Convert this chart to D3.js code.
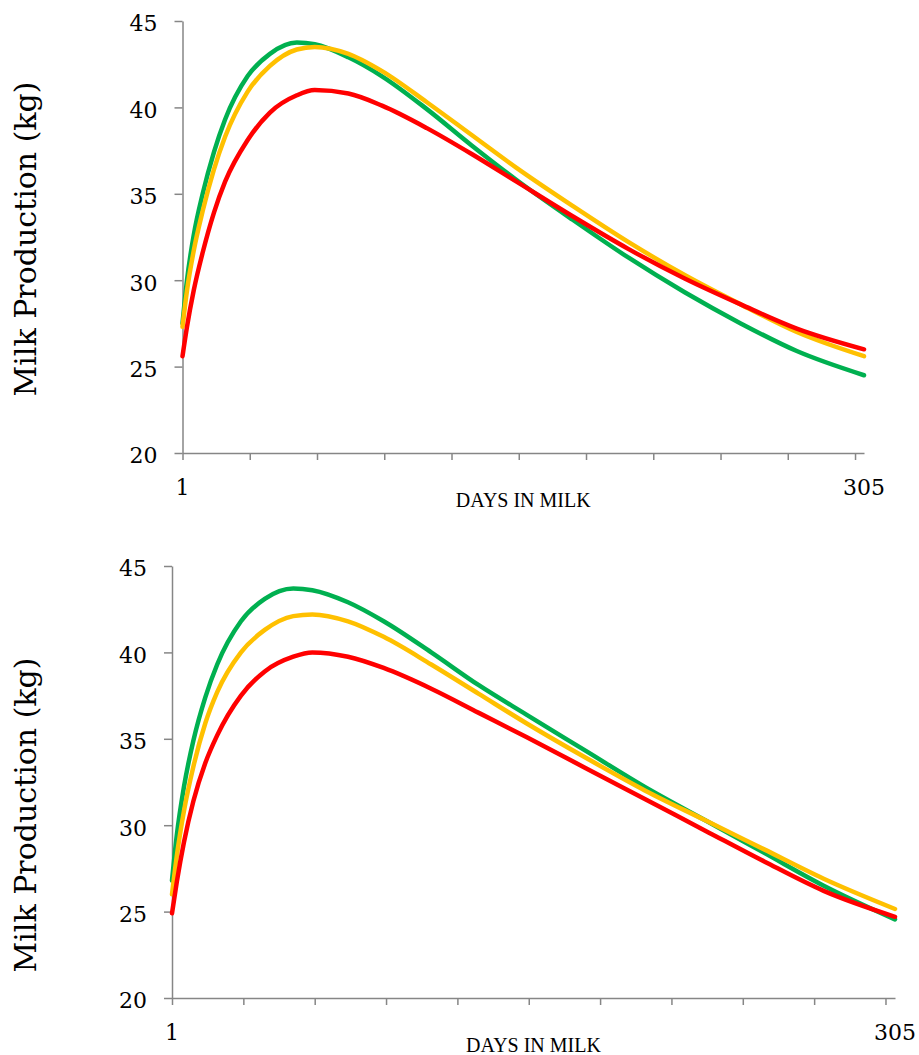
<!DOCTYPE html>
<html>
<head>
<meta charset="utf-8">
<script src="https://d3js.org/d3.v7.min.js"></script>
<style>
  body { margin: 0; background: #fff; }
  svg text { fill: #000; }
  .tick text { font-family: "DejaVu Serif", serif; font-size: 22px; }
  .ytitle { font-family: "DejaVu Serif", serif; font-size: 30px; }
  .xtitle { font-family: "Liberation Serif", serif; font-size: 20px; }
  .axis path, .axis line { stroke: #868686; stroke-width: 1.5; }
  .series { fill: none; stroke-width: 4.5; stroke-linecap: round; stroke-linejoin: round; }
</style>
</head>
<body>
<svg width="919" height="1055"></svg>
<script>
var days = [1, 3, 6, 10, 15, 20, 30, 40, 52, 60, 75, 90, 110, 130, 150, 175, 200, 225, 250, 275, 305];

// upper chart
var topGreen  = [27.5, 30.0, 32.6, 35.0, 37.4, 39.3, 41.8, 43.1, 43.75, 43.65, 42.9, 41.8, 39.9, 37.8, 35.8, 33.5, 31.3, 29.3, 27.5, 25.9, 24.5];
var topYellow = [27.3, 29.4, 31.7, 34.0, 36.4, 38.3, 40.9, 42.4, 43.35, 43.5, 43.1, 42.1, 40.3, 38.4, 36.5, 34.3, 32.2, 30.3, 28.6, 27.0, 25.6];
var topRed    = [25.6, 27.3, 29.4, 31.6, 33.9, 35.7, 38.1, 39.7, 40.7, 41.0, 40.8, 40.1, 38.8, 37.3, 35.7, 33.7, 31.8, 30.1, 28.6, 27.2, 26.0];

// lower chart
var botGreen  = [26.8, 29.4, 32.2, 34.9, 37.4, 39.3, 41.8, 43.1, 43.7, 43.6, 42.9, 41.8, 40.0, 38.1, 36.4, 34.3, 32.2, 30.3, 28.4, 26.5, 24.55];
var botYellow = [26.0, 28.2, 30.8, 33.4, 35.9, 37.7, 40.0, 41.3, 42.1, 42.2, 41.8, 40.9, 39.3, 37.6, 35.9, 33.9, 32.0, 30.3, 28.6, 26.9, 25.15];
var botRed    = [24.9, 26.7, 29.0, 31.4, 33.6, 35.2, 37.5, 38.9, 39.75, 40.0, 39.75, 39.1, 37.9, 36.5, 35.1, 33.3, 31.5, 29.7, 27.9, 26.2, 24.7];

var yTicks = [20, 25, 30, 35, 40, 45];
var xTickDays = [1, 31, 61, 91, 121, 151, 181, 211, 241, 271, 301];
var xLabels = [1, 305];
var colors = ["#00B050", "#FFC000", "#FF0000"];

var svg = d3.select("svg");

var panels = [
  { left: 182.5, right: 864, top: 21, bottom: 453, titleY: 239, series: [topGreen, topYellow, topRed] },
  { left: 172, right: 895, top: 566, bottom: 998, titleY: 815, series: [botGreen, botYellow, botRed] }
];

panels.forEach(function (p) {
  var x = d3.scaleLinear().domain([1, 305]).range([p.left, p.right]);
  var y = d3.scaleLinear().domain([20, 45]).range([p.bottom, p.top]);

  // y axis
  var ya = svg.append("g")
    .attr("class", "axis")
    .attr("transform", "translate(" + p.left + ",0)")
    .call(d3.axisLeft(y).tickValues(yTicks).tickSize(8).tickSizeOuter(0).tickPadding(17));
  ya.selectAll(".tick text").attr("dy", "0.45em");

  // x axis: ticks only, labels placed separately
  svg.append("g")
    .attr("class", "axis")
    .attr("transform", "translate(0," + p.bottom + ")")
    .call(d3.axisBottom(x).tickValues(xTickDays).tickSize(7).tickSizeOuter(0).tickFormat(""));

  svg.append("g").selectAll("text")
    .data(xLabels)
    .enter()
    .append("text")
    .attr("x", function (d) { return x(d); })
    .attr("y", p.bottom + 42)
    .attr("text-anchor", "middle")
    .style("font-family", "DejaVu Serif, serif")
    .style("font-size", "22px")
    .text(function (d) { return d; });

  svg.append("text")
    .attr("class", "xtitle")
    .attr("x", (p.left + p.right) / 2)
    .attr("y", p.bottom + 54)
    .attr("text-anchor", "middle")
    .text("DAYS IN MILK");

  svg.append("text")
    .attr("class", "ytitle")
    .attr("transform", "translate(36," + p.titleY + ") rotate(-90)")
    .attr("text-anchor", "middle")
    .text("Milk Production (kg)");

  var line = d3.line()
    .x(function (d, i) { return x(days[i]); })
    .y(function (d) { return y(d); })
    .curve(d3.curveMonotoneX);

  svg.append("g").selectAll("path")
    .data(p.series)
    .enter()
    .append("path")
    .attr("class", "series")
    .attr("stroke", function (d, i) { return colors[i]; })
    .attr("d", line);
});
</script>
</body>
</html>
